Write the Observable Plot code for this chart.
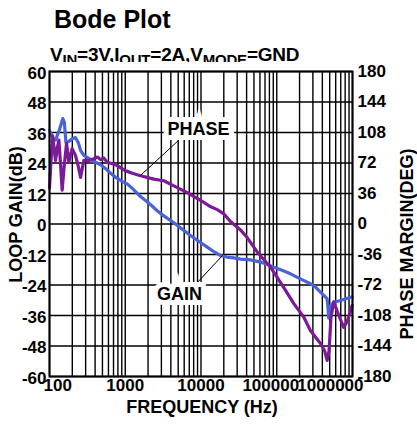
<!DOCTYPE html>
<html>
<head>
<meta charset="utf-8">
<script src="https://cdn.jsdelivr.net/npm/d3@7"></script>
<script src="https://cdn.jsdelivr.net/npm/@observablehq/plot@0.6"></script>
<style>
  html, body { margin: 0; padding: 0; background: white; }
  #wrap { position: relative; width: 417px; height: 430px; overflow: hidden; font-family: "Liberation Sans", Arial, sans-serif; font-weight: bold; color: black; }
  #title { position: absolute; left: 54px; top: 7px; font-size: 25px; line-height: 25px; white-space: nowrap; }
  #subtitle { position: absolute; left: 50px; top: 45px; font-size: 19px; line-height: 19px; white-space: nowrap; letter-spacing: -0.2px; }
  #subtitle sub { font-size: 15px; line-height: 0; vertical-align: -4px; }
  #chart { position: absolute; left: 0; top: 62px; }
</style>
</head>
<body>
<div id="wrap">
  <div id="title">Bode Plot</div>
  <div id="subtitle">V<sub>IN</sub>=3V,I<sub>OUT</sub>=2A,V<sub>MODE</sub>=GND</div>
  <div id="chart"></div>
</div>
<script>
// ---- Data ----
const gainFreq = [100, 112, 120, 135, 150, 157, 165, 180, 200, 220, 240, 257, 284, 330, 405, 471, 549, 639, 780, 912, 1060, 1240, 1590, 2000, 2640, 3300, 4380, 5500, 7270, 9500, 12100, 15000, 18100, 22000, 27100, 33200, 45000, 61000, 75000, 91400, 120000, 151700, 205000, 279000, 330000, 378000, 430000, 463000, 475000, 485000, 500000, 520000, 566000, 620000, 695000, 800000, 942000, 1000000];
const gainDb   = [36.8, 33.5, 33, 37, 41.5, 40, 32, 32.5, 33.5, 34, 32, 29, 27, 25.8, 24.3, 23.3, 21.8, 20, 18, 16.8, 15.8, 14, 10.8, 8.5, 5.2, 3, 0.5, -1.8, -4.5, -7, -9.1, -11, -12.4, -13, -13.3, -13.8, -14.1, -15, -15.8, -17, -18.3, -19.6, -21.6, -23.5, -25, -26.8, -28.5, -29.4, -33, -37, -35, -32, -30.8, -30.5, -30.1, -29.5, -28.8, -28.6];

const phaseFreq = [100, 104, 110, 115, 120, 127, 133, 140, 147, 157, 168, 180, 199, 220, 240, 257, 270, 284, 330, 385, 430, 471, 520, 578, 680, 783, 1000, 1240, 1590, 2380, 3230, 4380, 6580, 9850, 13000, 16400, 20000, 24500, 33200, 40700, 55200, 82700, 124000, 168000, 228000, 279000, 378000, 430000, 463000, 490000, 520000, 566000, 600000, 659000, 767000, 850000, 991000];
const phaseDeg  = [43, 70, 104, 90, 75, 90, 99, 70, 40, 70, 95, 73, 89, 81, 68, 55, 65, 75, 75, 77, 79, 76, 78, 73, 71, 69, 63, 60, 57, 53, 51, 45, 37, 28, 21, 17, 12, 3, -7, -16, -33, -51, -75, -94, -110, -126, -141, -150, -161, -150, -110, -92, -98, -108, -122, -115, -96];

const gainTicks  = [-60, -48, -36, -24, -12, 0, 12, 24, 36, 48, 60];      // left axis (dB)
const phaseTicks = [-180, -144, -108, -72, -36, 0, 36, 72, 108, 144, 180]; // right axis (deg)
const freqTicks  = [100, 1000, 10000, 100000, 1000000];
const decades    = [100, 1000, 10000, 100000];
const multipliers = [1, 2, 3, 4, 5, 6, 7, 8, 9];

// annotation anchors (freq, loop-gain units)
const labelText = ["PHASE", "GAIN"];
const labelFreq = [9270, 5203];
const labelDb   = [37.2, -27.5];
const leaderFreq1 = [5363, 8721];
const leaderDb1   = [33.6, -23.4];
const leaderFreq2 = [1590, 19220];
const leaderDb2   = [19.1, -12.4];

// ---- Build tables ----
const gain = gainFreq.map((f, i) => ({f, v: gainDb[i]}));
const phase = phaseFreq.map((f, i) => ({f, v: phaseDeg[i] / 3})); // right axis maps ±180° onto ±60 dB
const gridF = decades.flatMap(d => multipliers.map(m => d * m)).concat([1000000]);
const labels = labelText.map((t, i) => ({t, f: labelFreq[i], v: labelDb[i]}));
const leaders = labelText.map((t, i) => ({f1: leaderFreq1[i], v1: leaderDb1[i], f2: leaderFreq2[i], v2: leaderDb2[i]}));

const FONT = "Liberation Sans, Arial, sans-serif";
const BLUE = "#4A63D8";
const PURPLE = "#7D1A98";
const bold = {fontWeight: "bold", fill: "black"};

const chart = Plot.plot({
  width: 417,
  height: 368,
  marginTop: 9,
  marginBottom: 54,
  marginLeft: 49,
  marginRight: 65,
  style: {fontFamily: FONT, background: "white", overflow: "visible"},
  x: {type: "log", domain: [100, 1000000], axis: null},
  y: {domain: [-60, 60], axis: null},
  marks: [
    Plot.ruleX(gridF, {x: d => d, stroke: "black", strokeWidth: 1.4}),
    Plot.ruleY(gainTicks, {y: d => d, stroke: "black", strokeWidth: 1.4}),
    Plot.line(gain, {x: "f", y: "v", stroke: BLUE, strokeWidth: 3.2, strokeLinejoin: "round"}),
    Plot.line(phase, {x: "f", y: "v", stroke: PURPLE, strokeWidth: 3.2, strokeLinejoin: "round"}),
    Plot.frame({stroke: "black", strokeWidth: 2}),
    // leader lines and labels
    Plot.link(leaders, {x1: "f1", y1: "v1", x2: "f2", y2: "v2", stroke: "black", strokeWidth: 1}),
    Plot.text(labels, {x: "f", y: "v", text: "t", fontSize: 18, ...bold,
      stroke: "white", strokeWidth: 10, strokeLinejoin: "miter", paintOrder: "stroke"}),
    // left tick labels
    Plot.text(gainTicks, {y: d => d, text: d => String(d), frameAnchor: "left", textAnchor: "end",
      dx: -3, dy: 2, fontSize: 17, ...bold}),
    // right tick labels
    Plot.text(phaseTicks, {y: d => d / 3, text: d => String(d), frameAnchor: "right", textAnchor: "start",
      dx: 5, dy: 0, fontSize: 17, ...bold}),
    // bottom tick labels
    Plot.text(freqTicks.slice(0, 1), {x: d => d, text: d => String(d), frameAnchor: "bottom", lineAnchor: "top",
      textAnchor: "start", dx: -6, dy: 2, fontSize: 17, ...bold}),
    Plot.text(freqTicks.slice(1, 3), {x: d => d, text: d => String(d), frameAnchor: "bottom", lineAnchor: "top",
      textAnchor: "middle", dy: 2, fontSize: 17, ...bold}),
    Plot.text(freqTicks.slice(3, 4), {x: d => d, text: d => String(d), frameAnchor: "bottom", lineAnchor: "top",
      textAnchor: "middle", dx: -6, dy: 2, fontSize: 17, ...bold}),
    Plot.text(freqTicks.slice(-1), {x: d => d, text: d => String(d), frameAnchor: "bottom", lineAnchor: "top",
      textAnchor: "end", dx: 11, dy: 2, fontSize: 17, ...bold}),
    // axis titles
    Plot.text(["FREQUENCY (Hz)"], {text: d => d, frameAnchor: "bottom", textAnchor: "middle", dx: 1, dy: 36,
      fontSize: 18, ...bold}),
    Plot.text(["LOOP GAIN(dB)"], {text: d => d, frameAnchor: "left", textAnchor: "middle", rotate: -90, dx: -33, dy: -9.5,
      fontSize: 18, ...bold}),
    Plot.text(["PHASE MARGIN(DEG)"], {text: d => d, frameAnchor: "right", textAnchor: "middle", rotate: -90, dx: 55, dy: 20,
      fontSize: 18, ...bold})
  ]
});
document.getElementById("chart").appendChild(chart);
</script>
</body>
</html>
